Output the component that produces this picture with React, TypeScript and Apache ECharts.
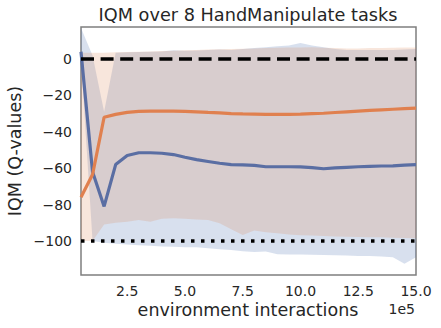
import React, { useEffect, useRef } from "react";
import * as echarts from "echarts";

const steps = [0.5, 1.0, 1.5, 2.0, 2.5, 3.0, 3.5, 4.0, 4.5, 5.0, 5.5, 6.0, 6.5, 7.0, 7.5, 8.0, 8.5, 9.0, 9.5, 10.0, 10.5, 11.0, 11.5, 12.0, 12.5, 13.0, 13.5, 14.0, 14.5, 15.0];

const blueMean = [4, -62, -81, -58, -53, -51.5, -51.5, -51.8, -52.5, -54, -55.3, -56.3, -57.3, -58, -58.2, -58.5, -59.2, -59.2, -59.2, -59.3, -59.7, -60.3, -59.8, -59.5, -59.2, -59, -58.8, -58.7, -58.3, -58];
const blueLow = [0, -100, -101, -101.5, -102, -102.3, -102.6, -103, -103.2, -103.5, -103.5, -104, -104.5, -105, -105.7, -106, -105.8, -107.3, -107.4, -107.5, -107.6, -107.7, -107.8, -108, -108.2, -108.2, -108.5, -109, -112.5, -109];
const blueHigh = [17, 2, -29, 3.5, 3.7, 3.8, 4, 4.2, 4.8, 4.5, 4.7, 5, 5.2, 5, 5.5, 6, 6.5, 7, 7.5, 8.8, 7.5, 6.5, 5.5, 5, 5, 5, 5, 5, 5.3, 5.5];

const orangeMean = [-76, -63.5, -32, -30.4, -29.3, -28.8, -28.6, -28.6, -28.6, -28.8, -29, -29.3, -29.6, -30, -30.2, -30.3, -30.4, -30.4, -30.4, -30.3, -30, -29.8, -29.4, -29, -28.6, -28.2, -27.9, -27.6, -27.3, -27];
const orangeLow = [-100, -100, -91, -90, -89.5, -88.5, -89.5, -87.8, -87.5, -87.8, -88.2, -88.5, -90.3, -93.5, -96.7, -94.3, -95.2, -95.8, -96.4, -96.8, -97, -97.3, -97.5, -97.7, -97.8, -98, -98, -98.2, -98.4, -98.5];
const orangeHigh = [3.5, 3.5, 3.5, 3.7, 3.8, 4, 4.2, 4.4, 4.6, 4.8, 5, 5.2, 5.4, 5.5, 5.6, 5.8, 6, 6.2, 6.3, 6.4, 6.5, 6.2, 6, 5.8, 5.8, 6, 6.1, 6.2, 6.3, 6.4];

const xTicks = [2.5, 5.0, 7.5, 10.0, 12.5, 15.0];
const yTicks = [-100, -80, -60, -40, -20, 0];
const upperRef = 0;
const lowerRef = -100;

const FONT = "DejaVu Sans";
const TEXT = "#262626";

function pairs(a: number[]) {
  return steps.map((x, i) => [x, a[i]]);
}

function bandSeries(lo: number[], hi: number[], color: string) {
  return {
    type: "custom",
    coordinateSystem: "cartesian2d",
    data: [[steps[0], lo[0]]],
    silent: true,
    clip: true,
    z: 1,
    renderItem: (_params: any, api: any) => {
      const pts: number[][] = [];
      for (let i = 0; i < steps.length; i++) pts.push(api.coord([steps[i], hi[i]]));
      for (let i = steps.length - 1; i >= 0; i--) pts.push(api.coord([steps[i], lo[i]]));
      return {
        type: "polygon",
        shape: { points: pts },
        style: { fill: color, stroke: "none" },
      };
    },
  };
}

export default function App() {
  const ref = useRef<HTMLDivElement>(null);
  useEffect(() => {
    if (!ref.current) return;
    const chart = echarts.init(ref.current, null, { renderer: "svg" });
    const xFirst = steps[0];
    const xLast = steps[steps.length - 1];
    chart.setOption({
      animation: false,
      grid: {
        left: 81,
        right: 25,
        top: 27,
        bottom: 53,
        show: true,
        borderColor: "#7f7f7f",
        borderWidth: 1.5,
        backgroundColor: "transparent",
      },
      xAxis: {
        type: "value",
        min: 0.5,
        max: 15,
        axisLine: { show: false },
        axisTick: { show: false },
        splitLine: { show: false },
        axisLabel: {
          customValues: xTicks,
          formatter: (v: number) => v.toFixed(1),
          fontFamily: FONT,
          fontSize: 14,
          color: TEXT,
          margin: 9,
        },
      },
      yAxis: {
        type: "value",
        min: -118.7,
        max: 17.6,
        axisLine: { show: false },
        axisTick: { show: false },
        splitLine: { show: false },
        axisLabel: {
          customValues: yTicks,
          formatter: (v: number) => (v < 0 ? "\u2212" + Math.abs(v) : String(v)),
          fontFamily: FONT,
          fontSize: 14,
          color: TEXT,
          margin: 9,
        },
      },
      graphic: [
        {
          type: "text",
          x: 248,
          y: 15,
          style: {
            text: "IQM over 8 HandManipulate tasks",
            align: "center",
            verticalAlign: "middle",
            fontFamily: FONT,
            fontSize: 17.7,
            fill: TEXT,
          },
        },
        {
          type: "text",
          x: 248,
          y: 310,
          style: {
            text: "environment interactions",
            align: "center",
            verticalAlign: "middle",
            fontFamily: FONT,
            fontSize: 17.5,
            fill: TEXT,
          },
        },
        {
          type: "text",
          x: 415,
          y: 309,
          style: {
            text: "1e5",
            align: "right",
            verticalAlign: "middle",
            fontFamily: FONT,
            fontSize: 14,
            fill: TEXT,
          },
        },
        {
          type: "text",
          x: 14.5,
          y: 151,
          rotation: Math.PI / 2,
          style: {
            text: "IQM (Q-values)",
            align: "center",
            verticalAlign: "middle",
            fontFamily: FONT,
            fontSize: 17.5,
            fill: TEXT,
          },
        },
      ],
      series: [
        bandSeries(blueLow, blueHigh, "rgba(76,114,176,0.22)"),
        bandSeries(orangeLow, orangeHigh, "rgba(221,132,82,0.2)"),
        {
          type: "line",
          data: pairs(blueMean),
          symbol: "none",
          lineStyle: { color: "#5a6ea3", width: 3.2 },
          z: 3,
        },
        {
          type: "line",
          data: pairs(orangeMean),
          symbol: "none",
          lineStyle: { color: "#e0804f", width: 3.2 },
          z: 3,
        },
        {
          type: "line",
          data: [[xFirst, upperRef], [xLast, upperRef]],
          symbol: "none",
          lineStyle: { color: "#000", width: 3.3, type: [13, 6.6], cap: "butt" },
          z: 4,
        },
        {
          type: "line",
          data: [[xFirst, lowerRef], [xLast, lowerRef]],
          symbol: "none",
          lineStyle: { color: "#000", width: 3.5, type: [3.5, 6.5], cap: "butt" },
          z: 4,
        },
      ],
    });
    return () => chart.dispose();
  }, []);
  return (
    <div
      ref={ref}
      style={{ position: "fixed", left: 0, top: 0, width: 441, height: 328, background: "#fff" }}
    />
  );
}
